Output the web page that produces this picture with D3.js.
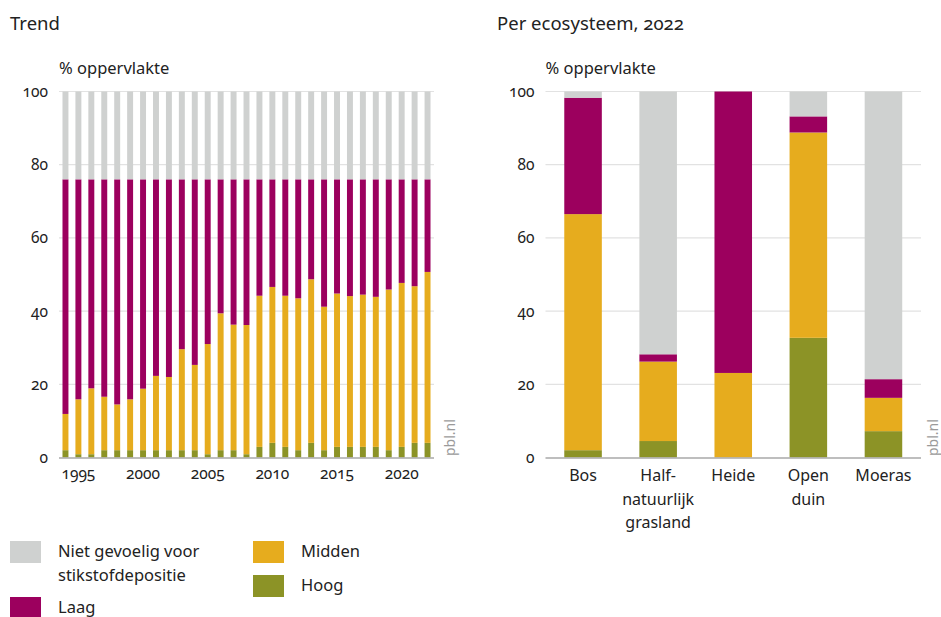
<!DOCTYPE html>
<html>
<head>
<meta charset="utf-8">
<script src="https://cdn.jsdelivr.net/npm/d3@7"></script>
<style>
  body { margin: 0; background: #fff; }
  svg text { font-family: "Noto Sans", "Open Sans", sans-serif; fill: #222; font-variant-numeric: oldstyle-nums; }
</style>
</head>
<body>
<svg id="chart" width="941" height="617"></svg>
<script>
// ---- data ----
var years = d3.range(1994, 2023);
// cumulative top of Midden (Hoog + Midden)
var middenTop = [11.9, 15.9, 18.9, 16.6, 14.5, 15.9, 18.8, 22.3, 22.0, 29.6, 25.3, 31.0, 39.4, 36.3, 36.2,
                 44.2, 46.6, 44.2, 43.5, 48.7, 41.2, 44.8, 44.1, 44.5, 43.9, 45.9, 47.7, 46.8, 50.7];
var hoog = [2.0, 0.9, 0.9, 2.0, 2.0, 2.0, 2.0, 2.0, 2.0, 2.0, 2.0, 0.9, 2.0, 2.0, 0.9,
            2.9, 4.0, 2.9, 2.0, 4.0, 2.0, 2.9, 2.9, 2.9, 2.9, 2.0, 2.9, 4.0, 4.0];
var gevoeligTotal = 76; // Hoog + Midden + Laag, every year

var ecoNames = [["Bos"], ["Half-", "natuurlijk", "grasland"], ["Heide"], ["Open", "duin"], ["Moeras"]];
var ecoHoog   = [2.0, 4.5, 0.0, 32.7, 7.2];
var ecoMidden = [64.5, 21.7, 23.1, 56.1, 9.1];
var ecoLaag   = [31.8, 2.0, 76.9, 4.4, 5.1];
var ecoNiet   = [1.7, 71.8, 0.0, 6.8, 78.6];

var keys = ["hoog", "midden", "laag", "niet"];
var colors = { niet: "#cfd1d0", laag: "#9c005e", midden: "#e6ac1e", hoog: "#8c9326" };
var legendItems = [
  { key: "niet", lines: ["Niet gevoelig voor", "stikstofdepositie"] },
  { key: "laag", lines: ["Laag"] },
  { key: "midden", lines: ["Midden"] },
  { key: "hoog", lines: ["Hoog"] }
];
var yTicks = [0, 20, 40, 60, 80, 100];

var trendRows = years.map(function(y, i) {
  return { cat: y, hoog: hoog[i], midden: middenTop[i] - hoog[i],
           laag: gevoeligTotal - middenTop[i], niet: 100 - gevoeligTotal };
});
var ecoRows = ecoNames.map(function(n, i) {
  return { cat: n.join(" "), lines: n, hoog: ecoHoog[i], midden: ecoMidden[i], laag: ecoLaag[i], niet: ecoNiet[i] };
});

var svg = d3.select("#chart");
var y = d3.scaleLinear().domain([0, 100]).range([457.5, 91.5]);

function panel(opts) {
  var g = svg.append("g");
  g.append("text").attr("x", opts.titleX).attr("y", 29.5).style("font-size", "18.5px").text(opts.title);
  g.append("text").attr("x", opts.x0).attr("y", 74).style("font-size", "16.5px").text("% oppervlakte");

  // grid
  g.selectAll(".grid").data(yTicks.slice(1)).enter().append("line")
    .attr("x1", opts.x0).attr("x2", opts.x1)
    .attr("y1", function(d) { return y(d); }).attr("y2", function(d) { return y(d); })
    .attr("stroke", "#e2e2e2").attr("stroke-width", 1.2);

  var yAxis = g.append("g").attr("transform", "translate(" + (opts.x0 - 11) + ",0)")
    .call(d3.axisLeft(y).tickValues(yTicks).tickSize(0).tickPadding(0));
  yAxis.select(".domain").remove();
  yAxis.selectAll("text").style("font-size", "15.5px").attr("dy", "0.32em").style("fill", "#222")
    .style("font-family", null);

  var x = d3.scaleBand().domain(opts.rows.map(function(d) { return d.cat; }))
    .range([opts.x0, opts.x1]).paddingInner(opts.padIn).paddingOuter(opts.padOut);

  var series = d3.stack().keys(keys)(opts.rows);
  g.selectAll(".series").data(series).enter().append("g")
    .attr("fill", function(s) { return colors[s.key]; })
    .selectAll("rect").data(function(s) { return s; }).enter().append("rect")
    .attr("x", function(d) { return x(d.data.cat); })
    .attr("width", x.bandwidth())
    .attr("y", function(d) { return y(d[1]); })
    .attr("height", function(d) { return Math.max(0, y(d[0]) - y(d[1])); });

  g.append("line").attr("x1", opts.x0).attr("x2", opts.x1)
    .attr("y1", y(0) + 0.5).attr("y2", y(0) + 0.5).attr("stroke", "#a8a8a8").attr("stroke-width", 1.5);

  g.append("text").attr("transform", "translate(" + opts.pblX + ",456)rotate(-90)")
    .style("font-size", "14px").style("fill", "#9a9a9a").text("pbl.nl");
  return { g: g, x: x };
}

// left: trend
var left = panel({ title: "Trend", titleX: 10, x0: 59, x1: 434, rows: trendRows,
                   padIn: 0.54, padOut: 0.27, pblX: 455 });
left.g.selectAll(".xl").data(years.filter(function(d) { return d % 5 === 0; })).enter().append("text")
  .attr("x", function(d) { return left.x(d) + left.x.bandwidth() / 2; })
  .attr("y", 479).attr("text-anchor", "middle").style("font-size", "15.5px")
  .text(function(d) { return d; });

// right: per ecosystem
var right = panel({ title: "Per ecosysteem, 2022", titleX: 497, x0: 545.5, x1: 921, rows: ecoRows,
                    padIn: 0.5, padOut: 0.25, pblX: 938 });
right.g.selectAll(".xl").data(ecoRows).enter().append("text")
  .attr("text-anchor", "middle").style("font-size", "16px")
  .attr("transform", function(d) { return "translate(" + (right.x(d.cat) + right.x.bandwidth() / 2) + ",481)"; })
  .selectAll("tspan").data(function(d) { return d.lines; }).enter().append("tspan")
  .attr("x", 0).attr("dy", function(d, i) { return i ? 23.5 : 0; })
  .text(function(d) { return d; });

// legend
var legPos = [[10, 541], [10, 597], [253, 541], [253, 575]];
var leg = svg.append("g").selectAll("g").data(legendItems).enter().append("g")
  .attr("transform", function(d, i) { return "translate(" + legPos[i][0] + "," + legPos[i][1] + ")"; });
leg.append("rect").attr("width", 31).attr("height", 22).attr("fill", function(d) { return colors[d.key]; });
leg.append("text").attr("x", 48).attr("y", 16).style("font-size", "16.5px")
  .selectAll("tspan").data(function(d) { return d.lines; }).enter().append("tspan")
  .attr("x", 48).attr("dy", function(d, i) { return i ? 24 : 0; })
  .text(function(d) { return d; });
</script>
</body>
</html>
